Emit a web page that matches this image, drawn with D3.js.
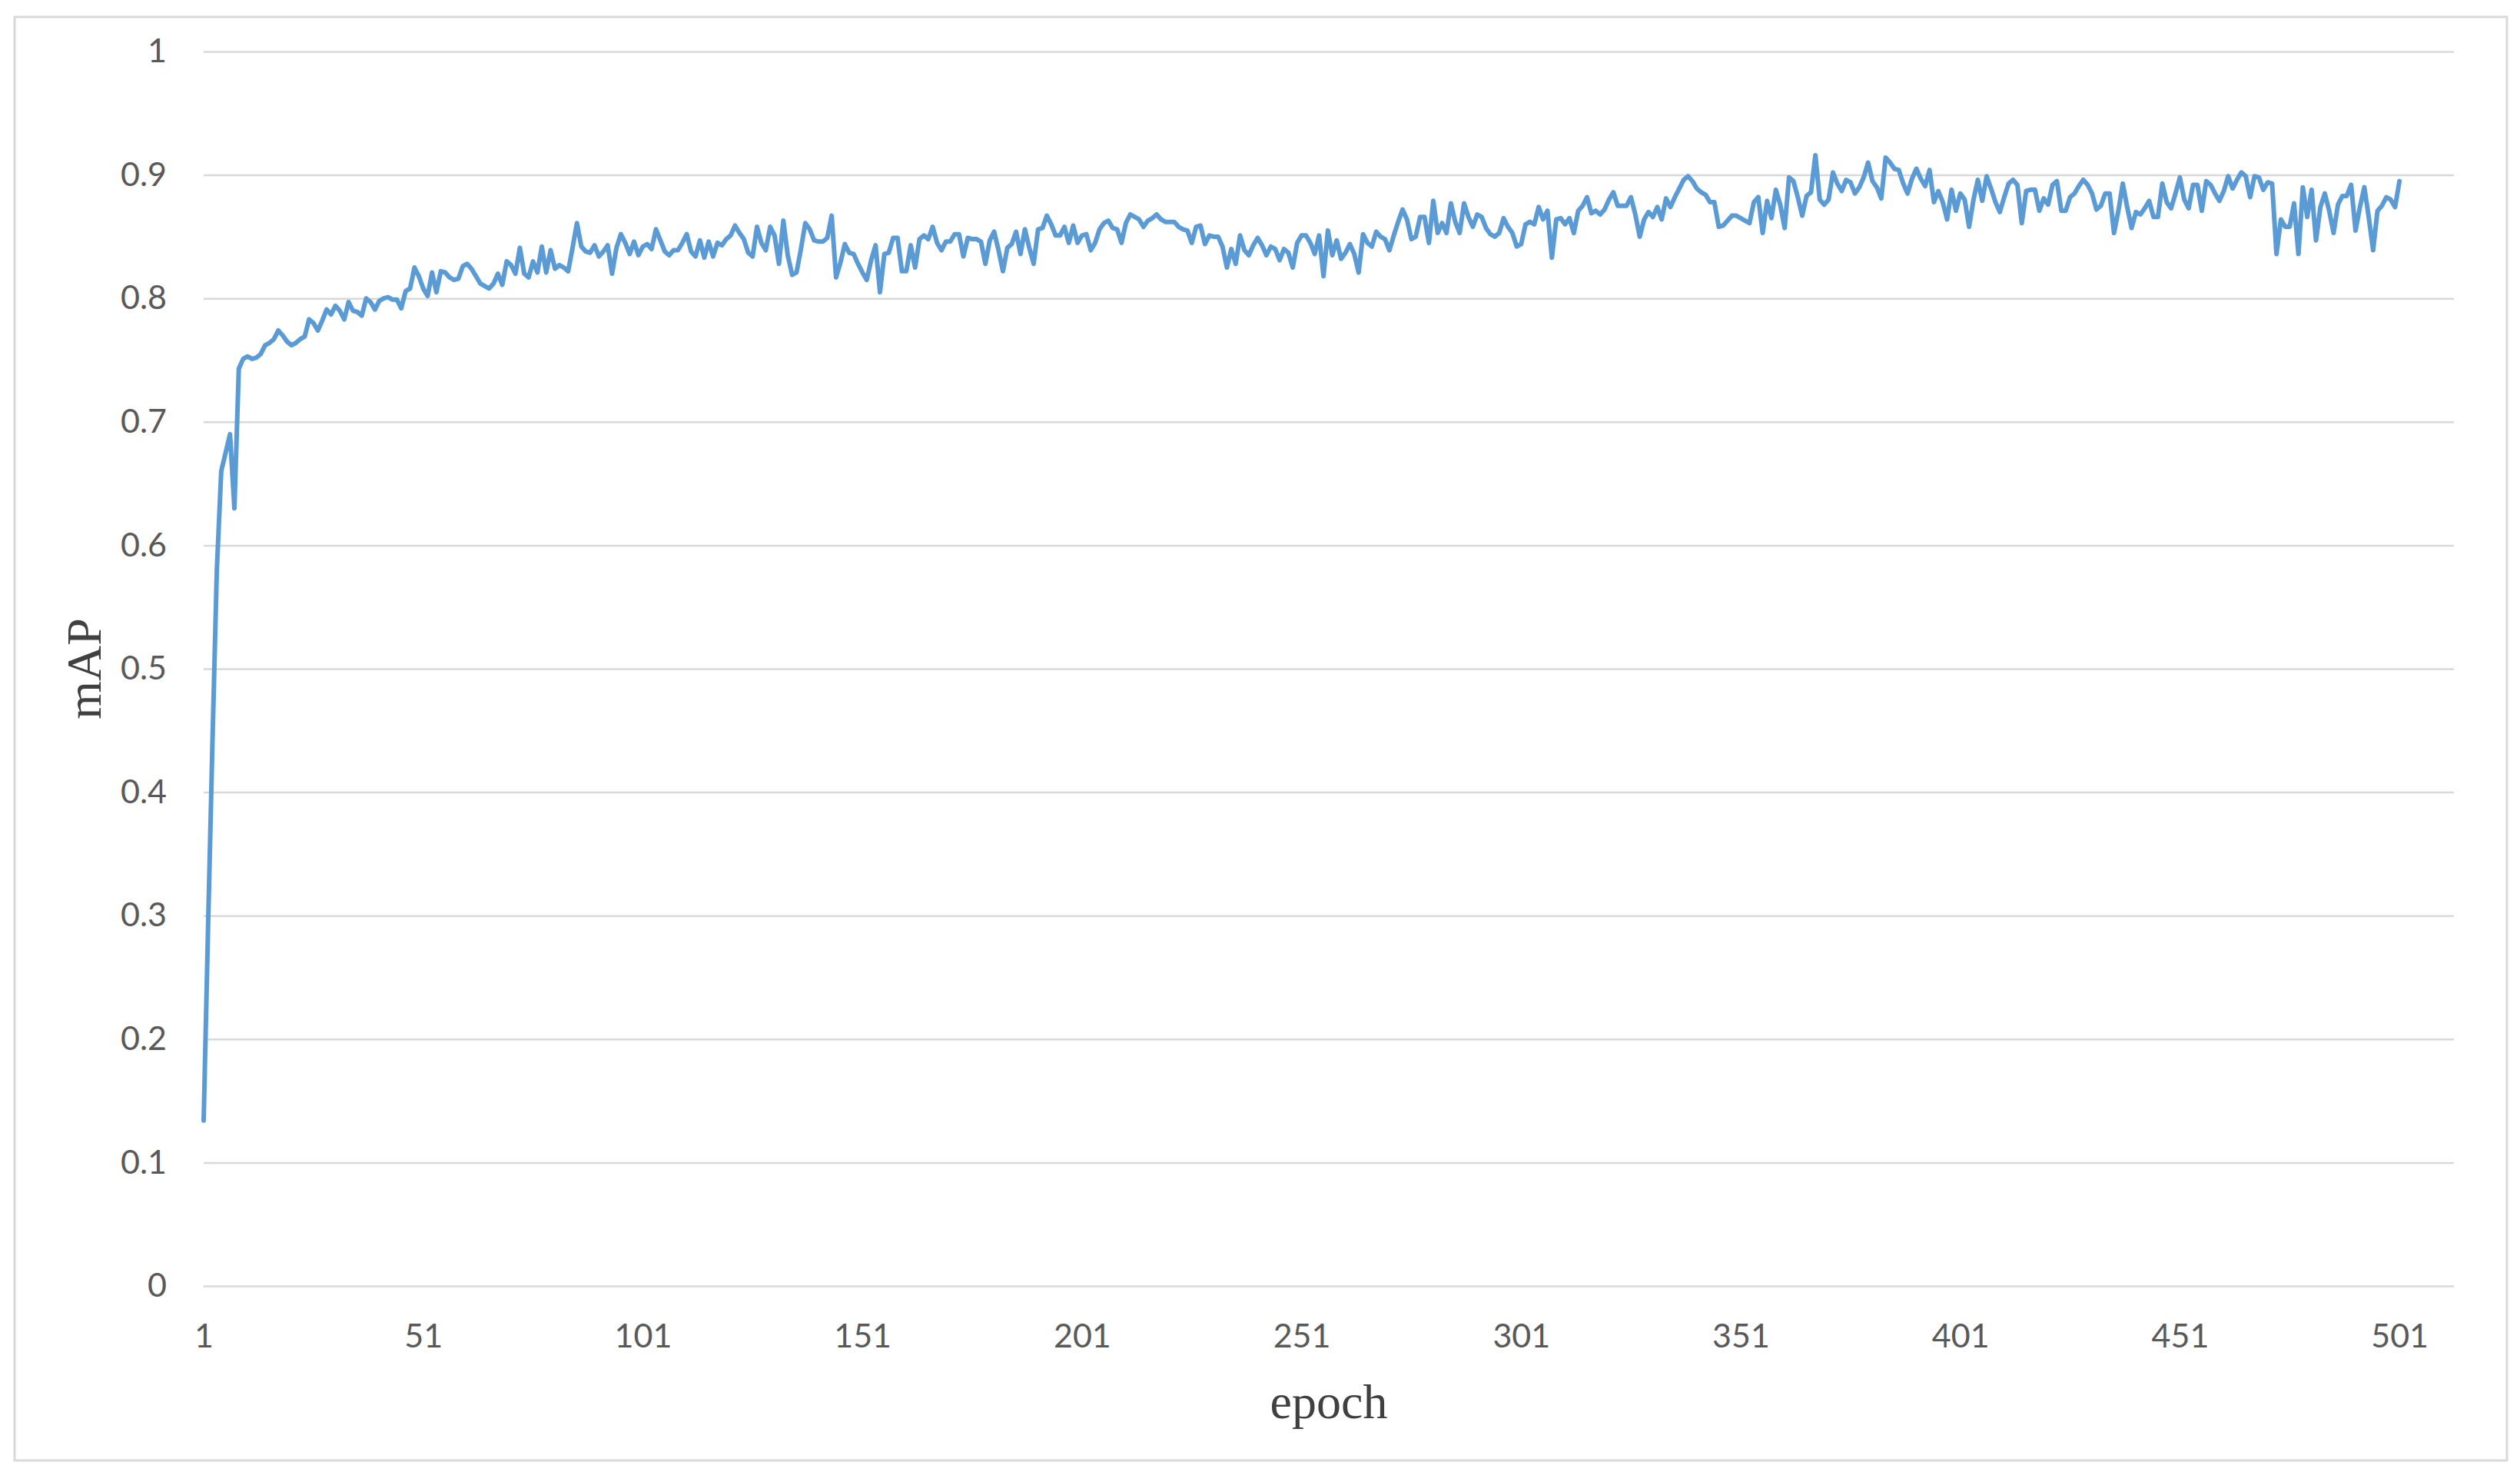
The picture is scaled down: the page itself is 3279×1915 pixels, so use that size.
<!DOCTYPE html>
<html>
<head>
<meta charset="utf-8">
<script src="https://cdn.jsdelivr.net/npm/d3@7"></script>
<style>
html,body{margin:0;padding:0;background:#fff;}
svg{display:block;}
</style>
</head>
<body>
<svg id="chart" width="3279" height="1915"></svg>
<script>
// ---------------- data ----------------
const xTickLabels = [1, 51, 101, 151, 201, 251, 301, 351, 401, 451, 501];
const yTickLabels = [0, 0.1, 0.2, 0.3, 0.4, 0.5, 0.6, 0.7, 0.8, 0.9, 1];
const xTitle = "epoch";
const yTitle = "mAP";
const epochCount = 513.4; // extent of category axis
const mAP_1_125 = [
0.134,0.29,0.44,0.58,0.66,0.675,0.69,0.63,0.743,0.751,
0.753,0.751,0.752,0.755,0.762,0.764,0.767,0.774,0.770,0.765,
0.762,0.764,0.767,0.769,0.783,0.780,0.774,0.782,0.791,0.787,
0.794,0.790,0.783,0.797,0.790,0.789,0.786,0.800,0.797,0.791,
0.798,0.800,0.801,0.799,0.799,0.792,0.806,0.808,0.825,0.818,
0.808,0.802,0.821,0.805,0.822,0.821,0.817,0.815,0.816,0.826,
0.828,0.824,0.818,0.812,0.810,0.808,0.812,0.820,0.811,0.830,
0.827,0.820,0.841,0.820,0.817,0.830,0.821,0.842,0.821,0.839,
0.824,0.827,0.825,0.822,0.841,0.861,0.842,0.838,0.837,0.843,
0.834,0.838,0.843,0.820,0.841,0.852,0.845,0.836,0.846,0.835,
0.842,0.844,0.840,0.856,0.847,0.838,0.835,0.839,0.839,0.845,
0.852,0.838,0.834,0.847,0.833,0.846,0.834,0.845,0.843,0.848,
0.851,0.859,0.853,0.848,0.837
];
const mAP_126_250 = [
0.834,0.858,0.845,0.839,0.858,0.851,0.828,0.863,0.835,0.819,
0.821,0.840,0.861,0.856,0.847,0.846,0.846,0.849,0.867,0.817,
0.829,0.844,0.837,0.836,0.828,0.821,0.815,0.831,0.843,0.805,
0.836,0.837,0.849,0.849,0.822,0.822,0.843,0.825,0.848,0.851,
0.848,0.858,0.845,0.839,0.846,0.846,0.852,0.852,0.834,0.849,
0.848,0.848,0.846,0.828,0.847,0.854,0.839,0.822,0.841,0.844,
0.854,0.836,0.856,0.841,0.828,0.856,0.857,0.867,0.860,0.851,
0.851,0.858,0.845,0.859,0.845,0.851,0.852,0.839,0.845,0.856,
0.861,0.863,0.857,0.856,0.845,0.861,0.868,0.866,0.864,0.858,
0.863,0.865,0.868,0.864,0.862,0.862,0.862,0.858,0.856,0.855,
0.845,0.858,0.859,0.844,0.851,0.850,0.850,0.842,0.825,0.840,
0.828,0.851,0.839,0.835,0.843,0.849,0.843,0.835,0.842,0.840,
0.831,0.840,0.837,0.825,0.845
];
const mAP_251_375 = [
0.851,0.851,0.845,0.836,0.851,0.818,0.855,0.835,0.847,0.832,
0.837,0.844,0.836,0.821,0.852,0.845,0.842,0.854,0.850,0.848,
0.839,0.851,0.862,0.872,0.864,0.848,0.850,0.866,0.866,0.845,
0.879,0.853,0.861,0.853,0.877,0.862,0.853,0.877,0.866,0.858,
0.868,0.866,0.857,0.852,0.850,0.853,0.865,0.858,0.853,0.842,
0.844,0.860,0.862,0.860,0.874,0.864,0.871,0.833,0.864,0.865,
0.860,0.865,0.853,0.871,0.875,0.882,0.869,0.871,0.868,0.872,
0.880,0.886,0.875,0.875,0.875,0.882,0.868,0.850,0.864,0.870,
0.866,0.874,0.864,0.881,0.874,0.882,0.889,0.896,0.899,0.895,
0.889,0.886,0.884,0.878,0.878,0.858,0.859,0.863,0.867,0.867,
0.865,0.863,0.861,0.878,0.882,0.853,0.879,0.865,0.888,0.876,
0.857,0.898,0.895,0.882,0.867,0.883,0.886,0.916,0.880,0.876,
0.880,0.902,0.893,0.887,0.896
];
const mAP_376_501 = [
0.894,0.885,0.890,0.898,0.910,0.895,0.890,0.881,0.914,0.910,
0.905,0.904,0.893,0.885,0.897,0.905,0.897,0.891,0.904,0.878,
0.887,0.878,0.864,0.888,0.871,0.885,0.880,0.858,0.880,0.896,
0.879,0.899,0.889,0.878,0.870,0.882,0.893,0.896,0.892,0.861,
0.887,0.888,0.888,0.871,0.881,0.876,0.892,0.895,0.871,0.871,
0.882,0.885,0.891,0.896,0.892,0.885,0.872,0.875,0.885,0.885,
0.853,0.871,0.893,0.874,0.857,0.870,0.868,0.873,0.879,0.866,
0.866,0.893,0.878,0.873,0.885,0.898,0.880,0.873,0.892,0.892,
0.871,0.895,0.892,0.885,0.879,0.887,0.899,0.889,0.896,0.902,
0.899,0.882,0.899,0.898,0.888,0.894,0.893,0.836,0.864,0.858,
0.858,0.877,0.836,0.890,0.866,0.888,0.847,0.874,0.885,0.871,
0.853,0.876,0.883,0.883,0.892,0.855,0.874,0.890,0.866,0.839,
0.871,0.875,0.882,0.880,0.874,0.895
];
const mAP = [].concat(mAP_1_125, mAP_126_250, mAP_251_375, mAP_376_501);
const epochs = mAP.map((_, i) => i + 1);

// ---------------- layout ----------------
const svg = d3.select("#chart");
const plot = {left: 265, right: 3193, top: 67, bottom: 1673};

svg.append("rect")
  .attr("x", 19).attr("y", 22)
  .attr("width", 3262 - 19).attr("height", 1900 - 22)
  .attr("fill", "#fff").attr("stroke", "#d9d9d9").attr("stroke-width", 3);

const x = d3.scaleLinear().domain([1, epochCount]).range([plot.left, plot.right]);
const y = d3.scaleLinear().domain([0, 1]).range([plot.bottom, plot.top]);

// y axis with gridlines
const yAxis = d3.axisLeft(y)
  .tickValues(yTickLabels)
  .tickSize(-(plot.right - plot.left))
  .tickPadding(48)
  .tickFormat(d => String(d));
const gy = svg.append("g").attr("transform", `translate(${plot.left},0)`).call(yAxis);
gy.select(".domain").remove();
gy.selectAll(".tick line").attr("stroke", "#d9d9d9").attr("stroke-width", 2.5);
gy.selectAll(".tick text")
  .attr("fill", "#595959")
  .style("font-family", "Lato, 'Open Sans', sans-serif")
  .style("font-size", "43px");

// x axis
const xAxis = d3.axisBottom(x)
  .tickValues(xTickLabels)
  .tickSize(0)
  .tickPadding(49)
  .tickFormat(d => String(d));
const gx = svg.append("g").attr("transform", `translate(0,${plot.bottom})`).call(xAxis);
gx.select(".domain").remove();
gx.selectAll(".tick text")
  .attr("fill", "#595959")
  .style("font-family", "Lato, 'Open Sans', sans-serif")
  .style("font-size", "43px");

// axis titles
svg.append("text")
  .attr("x", (plot.left + plot.right) / 2).attr("y", 1845)
  .attr("text-anchor", "middle")
  .attr("fill", "#404040")
  .style("font-family", "'Liberation Serif', 'DejaVu Serif', serif")
  .style("font-size", "64px")
  .text(xTitle);

svg.append("text")
  .attr("transform", `translate(131,${(plot.top + plot.bottom) / 2}) rotate(-90)`)
  .attr("text-anchor", "middle")
  .attr("fill", "#404040")
  .style("font-family", "'Liberation Serif', 'DejaVu Serif', serif")
  .style("font-size", "64px")
  .text(yTitle);

// line
const line = d3.line()
  .x((d, i) => x(epochs[i]))
  .y(d => y(d));
svg.append("path")
  .datum(mAP)
  .attr("fill", "none")
  .attr("stroke", "#5B9BD5")
  .attr("stroke-width", 6)
  .attr("stroke-linejoin", "round")
  .attr("stroke-linecap", "round")
  .attr("d", line);
</script>
</body>
</html>
